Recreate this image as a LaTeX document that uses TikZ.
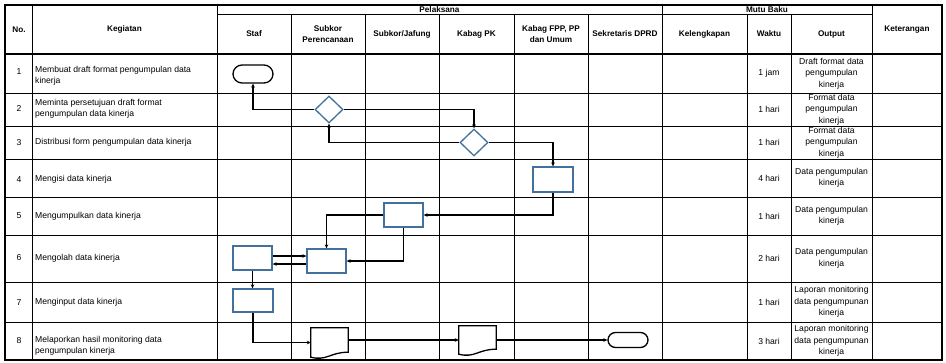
\documentclass[tikz,border=0pt]{standalone}
\usepackage{fontspec}
\setmainfont{Liberation Sans}
\usetikzlibrary{shapes.geometric,shapes.misc,arrows.meta}
\definecolor{shapeblue}{HTML}{41719C}
\begin{document}
\begin{tikzpicture}[x=1pt,y=-1pt,
  gridline/.style={line width=0.9pt,black},
  borderline/.style={line width=2.2pt,black},
  hdr/.style={font=\fontsize{8.2}{10.5}\selectfont\bfseries, align=center, inner sep=0pt},
  body/.style={font=\fontsize{8.6}{11.5}\selectfont, inner sep=0pt},
  kg/.style={body, anchor=west, align=left},
  outp/.style={body, align=center},
  procbox/.style={draw=shapeblue, line width=1.3pt, rectangle, inner sep=0pt},
  decision/.style={draw=shapeblue, line width=1.3pt, diamond, inner sep=0pt, minimum width=28pt, minimum height=27pt},
  terminal/.style={draw=black, line width=1.3pt, rounded rectangle, inner sep=0pt, minimum width=40pt},
  docnode/.style={rectangle, inner sep=0pt},
  docline/.style={draw=black, line width=1.3pt},
  conn/.style={line width=1.2pt, black, -{Stealth[length=4pt,width=3.6pt]}}
]
\fill[white] (0,0) rectangle (946,362);
\useasboundingbox (0,0) rectangle (946,362);

% ---------- grid ----------
% horizontal lines
\draw[gridline] (217,14) -- (872,14);
\foreach \yy in {93,126,159,197,235,282,322}
  \draw[gridline] (5,\yy) -- (942,\yy);
\draw[line width=1.8pt] (5,54) -- (942,54);
% vertical full-height lines
\foreach \xx in {32,217,662,872}
  \draw[gridline] (\xx,5) -- (\xx,360);
% vertical lines from sub-header row
\foreach \xx in {291,365,439,514,588,747,791}
  \draw[gridline] (\xx,14) -- (\xx,360);
% outer border
\draw[borderline] (5,5) rectangle (942,360);

% ---------- header ----------
\node[hdr] (hno) at (19,29.5) {No.};
\node[hdr] (hkeg) at (124.5,29.5) {Kegiatan};
\node[hdr] (hpel) at (439.5,9.5) {Pelaksana};
\node[hdr] (hmutu) at (767,9.5) {Mutu Baku};
\node[hdr] (hket) at (907,29.5) {Keterangan};
\node[hdr] (hstaf) at (254,34) {Staf};
\node[hdr] (hsubp) at (328,34) {Subkor\\Perencanaan};
\node[hdr] (hsubj) at (402,34) {Subkor/Jafung};
\node[hdr] (hpk) at (476.5,34) {Kabag PK};
\node[hdr] (hfpp) at (551,34) {Kabag FPP, PP\\dan Umum};
\node[hdr] (hsek) at (625,34) {Sekretaris DPRD};
\node[hdr] (hkel) at (704.5,34) {Kelengkapan};
\node[hdr] (hwak) at (769,34) {Waktu};
\node[hdr] (hout) at (831.5,34) {Output};

% ---------- rows ----------
\node[body] (no1) at (19,72) {1};
\node[kg] (kg1) at (35,76) {Membuat draft format pengumpulan data\\kinerja};
\node[body] (wk1) at (769,73.5) {1 jam};
\node[outp] (out1) at (831.5,73.5) {Draft format data\\pengumpulan\\kinerja};

\node[body] (no2) at (19,108) {2};
\node[kg] (kg2) at (35,109) {Meminta persetujuan draft format\\pengumpulan data kinerja};
\node[body] (wk2) at (769,109.5) {1 hari};
\node[outp] (out2) at (831.5,109.5) {Format data\\pengumpulan\\kinerja};

\node[body] (no3) at (19,142.5) {3};
\node[kg] (kg3) at (35,142.5) {Distribusi form pengumpulan data kinerja};
\node[body] (wk3) at (769,142.5) {1 hari};
\node[outp] (out3) at (831.5,142.5) {Format data\\pengumpulan\\kinerja};

\node[body] (no4) at (19,179.5) {4};
\node[kg] (kg4) at (35,179.5) {Mengisi data kinerja};
\node[body] (wk4) at (769,178) {4 hari};
\node[outp] (out4) at (831.5,178) {Data pengumpulan\\kinerja};

\node[body] (no5) at (19,216) {5};
\node[kg] (kg5) at (35,216) {Mengumpulkan data kinerja};
\node[body] (wk5) at (769,216) {1 hari};
\node[outp] (out5) at (831.5,216) {Data pengumpulan\\kinerja};

\node[body] (no6) at (19,258) {6};
\node[kg] (kg6) at (35,258) {Mengolah data kinerja};
\node[body] (wk6) at (769,258.5) {2 hari};
\node[outp] (out6) at (831.5,258.5) {Data pengumpulan\\kinerja};

\node[body] (no7) at (19,302.5) {7};
\node[kg] (kg7) at (35,302.5) {Menginput data kinerja};
\node[body] (wk7) at (769,302) {1 hari};
\node[outp] (out7) at (831.5,302) {Laporan monitoring\\data pengumpunan\\kinerja};

\node[body] (no8) at (19,341) {8};
\node[kg] (kg8) at (35,346) {Melaporkan hasil monitoring data\\pengumpulan kinerja};
\node[body] (wk8) at (769,341) {3 hari};
\node[outp] (out8) at (831.5,341) {Laporan monitoring\\data pengumpunan\\kinerja};

% ---------- flowchart shapes ----------
\node[terminal, minimum height=18pt] (term1) at (253,74) {};
\node[decision] (dia2) at (329,109.5) {};
\node[decision] (dia3) at (474,142.5) {};
\node[procbox, minimum width=40pt, minimum height=25pt] (box4) at (553,179.5) {};
\node[procbox, minimum width=39pt, minimum height=24pt] (box5) at (403.5,215) {};
\node[procbox, minimum width=39pt, minimum height=24pt] (box6s) at (252.5,258) {};
\node[procbox, minimum width=39pt, minimum height=24pt] (box6) at (326.5,261) {};
\node[procbox, minimum width=40pt, minimum height=23pt] (box7) at (253,300.5) {};
\node[docnode, minimum width=37pt, minimum height=29pt] (doc1) at (329.5,342.5) {};
\node[docnode, minimum width=37pt, minimum height=28pt] (doc2) at (477.5,340) {};
\node[terminal, minimum height=15pt] (term8) at (628,340) {};

% document outlines
\draw[docline] (doc1.south west) -- (doc1.north west) -- (doc1.north east)
  -- ([yshift=5pt]doc1.south east)
  .. controls ([xshift=-18pt,yshift=5pt]doc1.south east) and ([xshift=16pt,yshift=-4pt]doc1.south west) .. (doc1.south west) -- cycle;
\draw[docline] (doc2.south west) -- (doc2.north west) -- (doc2.north east)
  -- ([yshift=5pt]doc2.south east)
  .. controls ([xshift=-18pt,yshift=5pt]doc2.south east) and ([xshift=16pt,yshift=-4pt]doc2.south west) .. (doc2.south west) -- cycle;

% ---------- connectors ----------
\draw[conn] (dia2.west) -| (term1.south);
\draw[conn] (dia2.east) -| (dia3.north);
\draw[conn] (dia3.west) -| (dia2.south);
\draw[conn] (dia3.east) -| (box4.north);
\draw[conn] (box4.south) |- (box5.east);
\draw[conn] (box5.west) -| (box6.north);
\draw[conn] (box5.south) |- (box6.east);
\draw[conn] ([yshift=2pt]box6s.east) -- ([yshift=2pt]box6s.east -| box6.west);
\draw[conn] ([yshift=-6pt]box6s.east -| box6.west) -- ([yshift=-6pt]box6s.east);
\draw[conn] (box6s.south) -- (box6s.south |- box7.north);
\draw[conn] (box7.south) |- (doc1.west);
\draw[conn] (doc1.east |- doc2.west) -- (doc2.west);
\draw[conn] (doc2.east) -- (term8.west);
\end{tikzpicture}
\end{document}
